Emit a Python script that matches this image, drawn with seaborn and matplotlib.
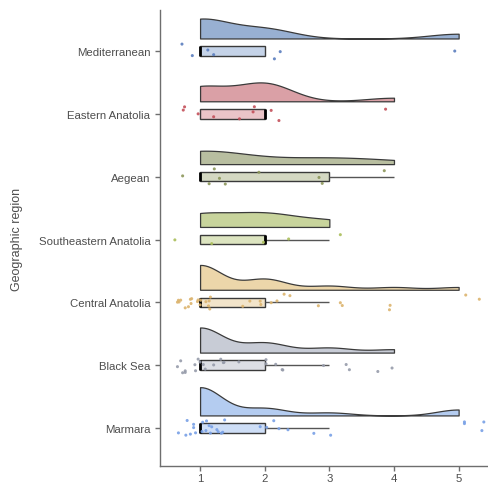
import numpy as np
import pandas as pd
import matplotlib
matplotlib.use("Agg")
import matplotlib.pyplot as plt
import matplotlib.transforms as mtransforms
import seaborn as sns

# ---------------- data ----------------
regions = ["Mediterranean", "Eastern Anatolia", "Aegean", "Southeastern Anatolia",
           "Central Anatolia", "Black Sea", "Marmara"]

# underlying responses (1-5) per region
mediterranean = [1, 1, 1, 1, 2, 2, 5]
eastern_anatolia = [1, 1, 1, 1, 2, 2, 2, 2, 2, 4]
aegean = [1, 1, 1, 1, 1, 2, 3, 3, 4]
southeastern_anatolia = [1, 1, 2, 2, 3]
central_anatolia = [1] * 18 + [2] * 8 + [3] * 3 + [4] * 2 + [5] * 2
black_sea = [1] * 15 + [2] * 6 + [3] * 3 + [4] * 2
marmara = [1] * 19 + [2] * 5 + [3] * 2 + [5] * 4

# jittered point positions as drawn in the rain
mediterranean_pts = [0.72, 0.88, 1.12, 1.21, 2.15, 2.24, 4.94]
eastern_anatolia_pts = [0.76, 0.74, 0.97, 1.21, 1.61, 1.82, 1.84, 2.10, 2.22, 3.87]
aegean_pts = [0.73, 1.14, 1.22, 1.30, 1.39, 1.91, 2.84, 2.89, 3.85]
southeastern_anatolia_pts = [0.61, 1.18, 1.98, 2.37, 3.17]
central_anatolia_pts = [0.65, 0.665, 0.675, 0.70, 0.77, 0.82, 0.85, 0.86, 0.87, 0.96,
                        0.97, 1.00, 1.01, 1.09, 1.13, 1.14, 1.15, 1.16,
                        1.66, 1.77, 1.93, 1.94, 2.10, 2.19, 2.30, 2.39,
                        2.83, 3.17, 3.20, 3.93, 3.94, 5.11, 5.32]
black_sea_pts = [0.65, 0.70, 0.73, 0.77, 0.77, 0.92, 0.93, 0.97, 1.00, 1.05, 1.08,
                 1.21, 1.32, 1.36, 1.37, 1.60, 2.02, 2.02, 2.17, 2.27, 2.28,
                 2.91, 3.26, 3.31, 3.75, 3.97]
marmara_pts = [0.665, 0.78, 0.80, 0.85, 0.90, 0.90, 0.93, 1.03, 1.04, 1.09, 1.10,
               1.14, 1.16, 1.18, 1.26, 1.28, 1.33, 1.35, 1.38,
               1.93, 2.03, 2.14, 2.22, 2.36, 2.76, 3.02, 5.09, 5.09, 5.36, 5.39]

x_ticks = [1, 2, 3, 4, 5]
y_label = "Geographic region"

violin_colors = ["#98B0D2", "#DAA0A6", "#B8BEA0", "#C8D49C", "#ECD6AA", "#C8CCD6", "#B4CCF0"]
box_colors = ["#C5D3E8", "#EAC4C8", "#D4D8C2", "#DCE4C0", "#F2E4CA", "#DCDEE4", "#CEDEF6"]
point_colors = ["#5A7DBE", "#C4505A", "#8C965A", "#AABE5A", "#DCB46E", "#969BAA", "#78A0E6"]

values = [mediterranean, eastern_anatolia, aegean, southeastern_anatolia,
          central_anatolia, black_sea, marmara]
points = [mediterranean_pts, eastern_anatolia_pts, aegean_pts, southeastern_anatolia_pts,
          central_anatolia_pts, black_sea_pts, marmara_pts]

df = pd.DataFrame({"region": np.repeat(regions, [len(v) for v in values]),
                   "value": np.concatenate(values).astype(float)})
dfp = pd.DataFrame({"region": np.repeat(regions, [len(p) for p in points]),
                    "value": np.concatenate(points)})


def nrd0(kde):
    x = np.asarray(kde.dataset).ravel()
    sd = x.std(ddof=1)
    q75, q25 = np.percentile(x, [75, 25])
    lo = min(sd, (q75 - q25) / 1.34)
    if lo <= 0:
        lo = sd
    return 0.9 * lo * len(x) ** -0.2 / sd


# ---------------- plot ----------------
sns.set_theme(style="ticks")
plt.rcParams["font.family"] = ["Liberation Sans", "DejaVu Sans"]

fig = plt.figure(figsize=(4.89, 4.85), dpi=100)
ax = fig.add_axes([160 / 489, 1 - 467 / 485, 1 - 160 / 489, (467 - 11) / 485])

VW = 0.45  # max half-violin extent (category units)
n_before = len(ax.collections)
sns.violinplot(data=df, x="value", y="region", order=regions, orient="h",
               split=True, inner=None, cut=0, density_norm="area", bw_method=nrd0,
               width=VW, linewidth=0.9, linecolor="#3A3A3A", color=violin_colors[0],
               saturation=1, ax=ax)
vcolls = ax.collections[n_before:]
# seaborn puts the flat edge of the half violin at +VW/2; move it to -0.2 (above the box)
shift = mtransforms.Affine2D().translate(0, -(VW / 2 + 0.2)) + ax.transData
for coll, c in zip(vcolls, violin_colors):
    coll.set_facecolor(c)
    coll.set_edgecolor("#3A3A3A")
    coll.set_transform(shift)

sns.boxplot(data=df, x="value", y="region", order=regions, orient="h",
            hue="region", hue_order=regions, palette=box_colors, legend=False,
            width=0.15, showfliers=False, showcaps=False, saturation=1,
            linewidth=1.0, linecolor="#3A3A3A",
            medianprops=dict(color="black", linewidth=2),
            whiskerprops=dict(color="#555555", linewidth=1),
            ax=ax)

np.random.seed(7)
sns.stripplot(data=dfp, x="value", y="region", order=regions, orient="h",
              hue="region", hue_order=regions, palette=point_colors, legend=False,
              jitter=0.13, size=2.2, linewidth=0, alpha=0.9, ax=ax)

ax.set_xlim(0.38, 5.47)
ax.set_ylim(6.605, -0.653)
ax.set_xticks(x_ticks)
ax.set_xlabel("")
ax.set_ylabel(y_label, fontsize=9, color="#4D4D4D")
ax.yaxis.set_label_coords(-0.415, 0.5)
ax.tick_params(axis="both", labelsize=8.2, labelcolor="#4D4D4D", color="#6E6E6E",
               length=3.5, width=1)
ax.tick_params(axis="x", pad=1.5)
for s in ["left", "bottom"]:
    ax.spines[s].set_color("#6E6E6E")
    ax.spines[s].set_linewidth(1)
sns.despine(ax=ax)

fig.savefig("out.png", dpi=100)
